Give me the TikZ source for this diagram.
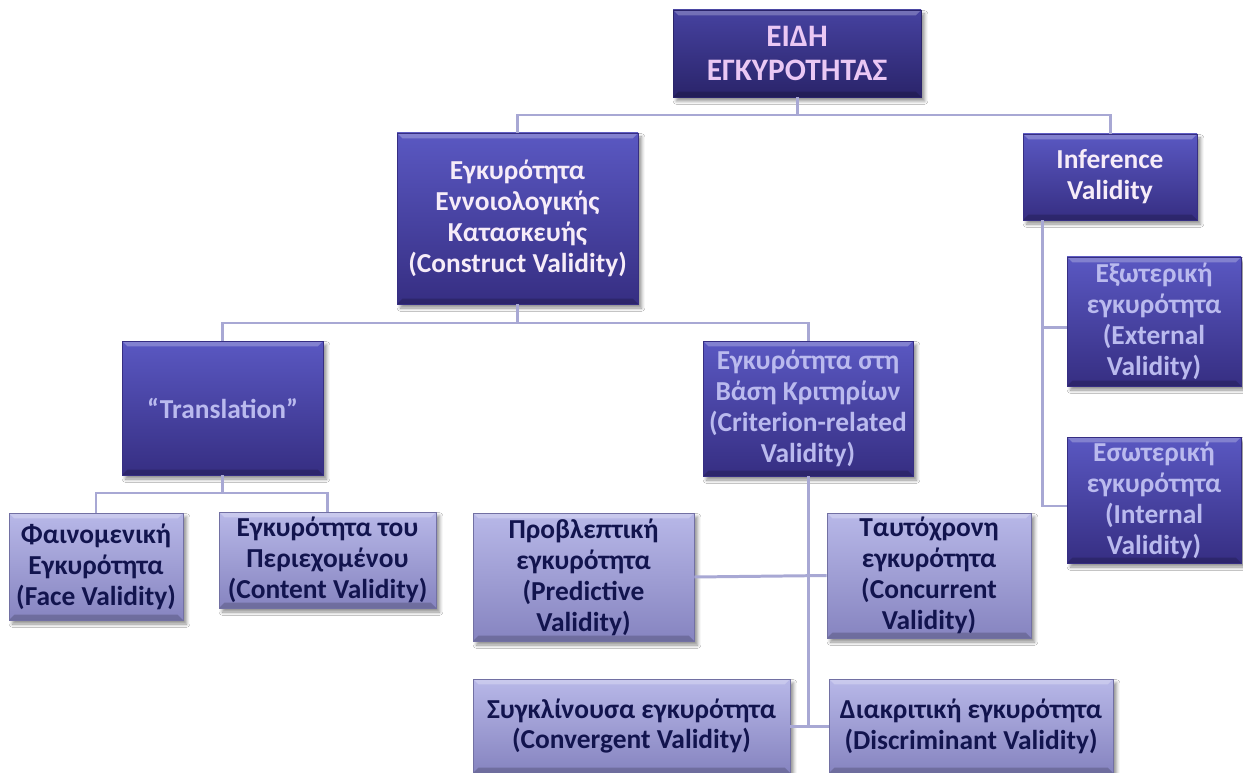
\documentclass[tikz,border=0pt]{standalone}
\usepackage{fontspec}
\setmainfont{Carlito}
\usetikzlibrary{shadows.blur}

\definecolor{headTop}{RGB}{70,66,160}
\definecolor{headBot}{RGB}{42,36,106}
\definecolor{deepTop}{RGB}{90,88,194}
\definecolor{deepBot}{RGB}{54,46,130}
\definecolor{paleTop}{RGB}{184,184,232}
\definecolor{paleBot}{RGB}{134,132,192}
\definecolor{inkNavy}{RGB}{18,20,78}
\definecolor{linkLav}{RGB}{168,168,212}
\definecolor{txtPink}{RGB}{234,200,244}
\definecolor{txtWhite}{RGB}{246,236,248}
\definecolor{txtLav}{RGB}{186,186,238}

\tikzset{
  box/.style={rectangle, inner sep=0pt, align=center, line width=0.4pt,
    font=\fontsize{15.6}{17.6}\selectfont\bfseries,
    blur shadow={shadow xshift=0.07cm, shadow yshift=-0.08cm,
      shadow blur steps=6, shadow opacity=45},
    path picture={
      \fill[white,opacity=.25] (path picture bounding box.north west)
        -- (path picture bounding box.north east)
        -- ([xshift=-3pt,yshift=-3pt]path picture bounding box.north east)
        -- ([xshift=3pt,yshift=-3pt]path picture bounding box.north west) -- cycle;
      \fill[black,opacity=.18] (path picture bounding box.south west)
        -- (path picture bounding box.south east)
        -- ([xshift=-3pt,yshift=3pt]path picture bounding box.south east)
        -- ([xshift=3pt,yshift=3pt]path picture bounding box.south west) -- cycle;
    }},
  head/.style={box, top color=headTop, bottom color=headBot, draw=headBot, text=txtPink,
    font=\fontsize{17.8}{19}\selectfont\bfseries},
  deep/.style={box, top color=deepTop, bottom color=deepBot, draw=deepBot},
  pale/.style={box, top color=paleTop, bottom color=paleBot, draw=paleBot!85!black, text=inkNavy},
  wh/.style 2 args={minimum width=#1*0.02cm, minimum height=#2*0.02cm},
  link/.style={draw=linkLav, line width=1.7pt},
}

\begin{document}
\begin{tikzpicture}[x=0.02cm,y=-0.02cm]
\useasboundingbox[fill=white] (0,0) rectangle (1243,773);

\node[head,wh={248}{87}] (kinds) at (797,53.5) {ΕΙΔΗ\\ΕΓΚΥΡΟΤΗΤΑΣ};
\node[deep,wh={241}{171},text=txtWhite] (construct) at (517.5,218.5)
  {Εγκυρότητα\\Εννοιολογικής\\Κατασκευής\\(Construct Validity)};
\node[deep,wh={174}{86},text=txtWhite] (inference) at (1110,177) {Inference\\Validity};
\node[deep,wh={174}{129},text=txtLav] (external) at (1154,321.5)
  {Εξωτερική\\εγκυρότητα\\(External\\Validity)};
\node[deep,wh={174}{126},text=txtLav] (internal) at (1154,500)
  {Εσωτερική\\εγκυρότητα\\(Internal\\Validity)};
\node[deep,wh={201}{134},text=txtLav] (translation) at (222.5,408) {“Translation”};
\node[deep,wh={210}{135},text=txtLav] (criterion) at (808,408.5)
  {Εγκυρότητα στη\\Βάση Κριτηρίων\\(Criterion-related\\Validity)};

\node[pale,wh={174}{107}] (face) at (96,566.5) {Φαινομενική\\Εγκυρότητα\\(Face Validity)};
\node[pale,wh={217}{96}] (content) at (327.5,560) {Εγκυρότητα του\\Περιεχομένου\\(Content Validity)};
\node[pale,wh={221}{128}] (predictive) at (583.5,577)
  {Προβλεπτική\\εγκυρότητα\\(Predictive\\Validity)};
\node[pale,wh={204}{125}] (concurrent) at (929,575.5)
  {Ταυτόχρονη\\εγκυρότητα\\(Concurrent\\Validity)};
\node[pale,wh={317}{94}] (convergent) at (631.5,726)
  {Συγκλίνουσα εγκυρότητα\\(Convergent Validity)};
\node[pale,wh={284}{94}] (discriminant) at (971,726)
  {Διακριτική εγκυρότητα\\(Discriminant Validity)};

\coordinate (busA) at (797,115);
\coordinate (busB) at (517.5,323);
\coordinate (busC) at (222.5,493);
\coordinate (stem) at (1042,0);

\draw[link] (kinds.south) -- (busA);
\draw[link] (construct.north) |- (busA) -| (inference.north);
\draw[link] (construct.south) -- (busB);
\draw[link] (translation.north) |- (busB) -| (criterion.north);
\draw[link] (translation.south) -- (busC);
\draw[link] (face.north) |- (busC) -| (content.north);
\draw[link] (inference.south -| stem) |- ([yshift=-0.12cm]external.west);
\draw[link] (inference.south -| stem) |- ([yshift=-0.12cm]internal.west);
\draw[link] (criterion.south) -- (criterion.south |- convergent.east);
\draw[link] (predictive.east) -- (concurrent.west);
\draw[link] (convergent.east) -- (discriminant.west);
\end{tikzpicture}
\end{document}
